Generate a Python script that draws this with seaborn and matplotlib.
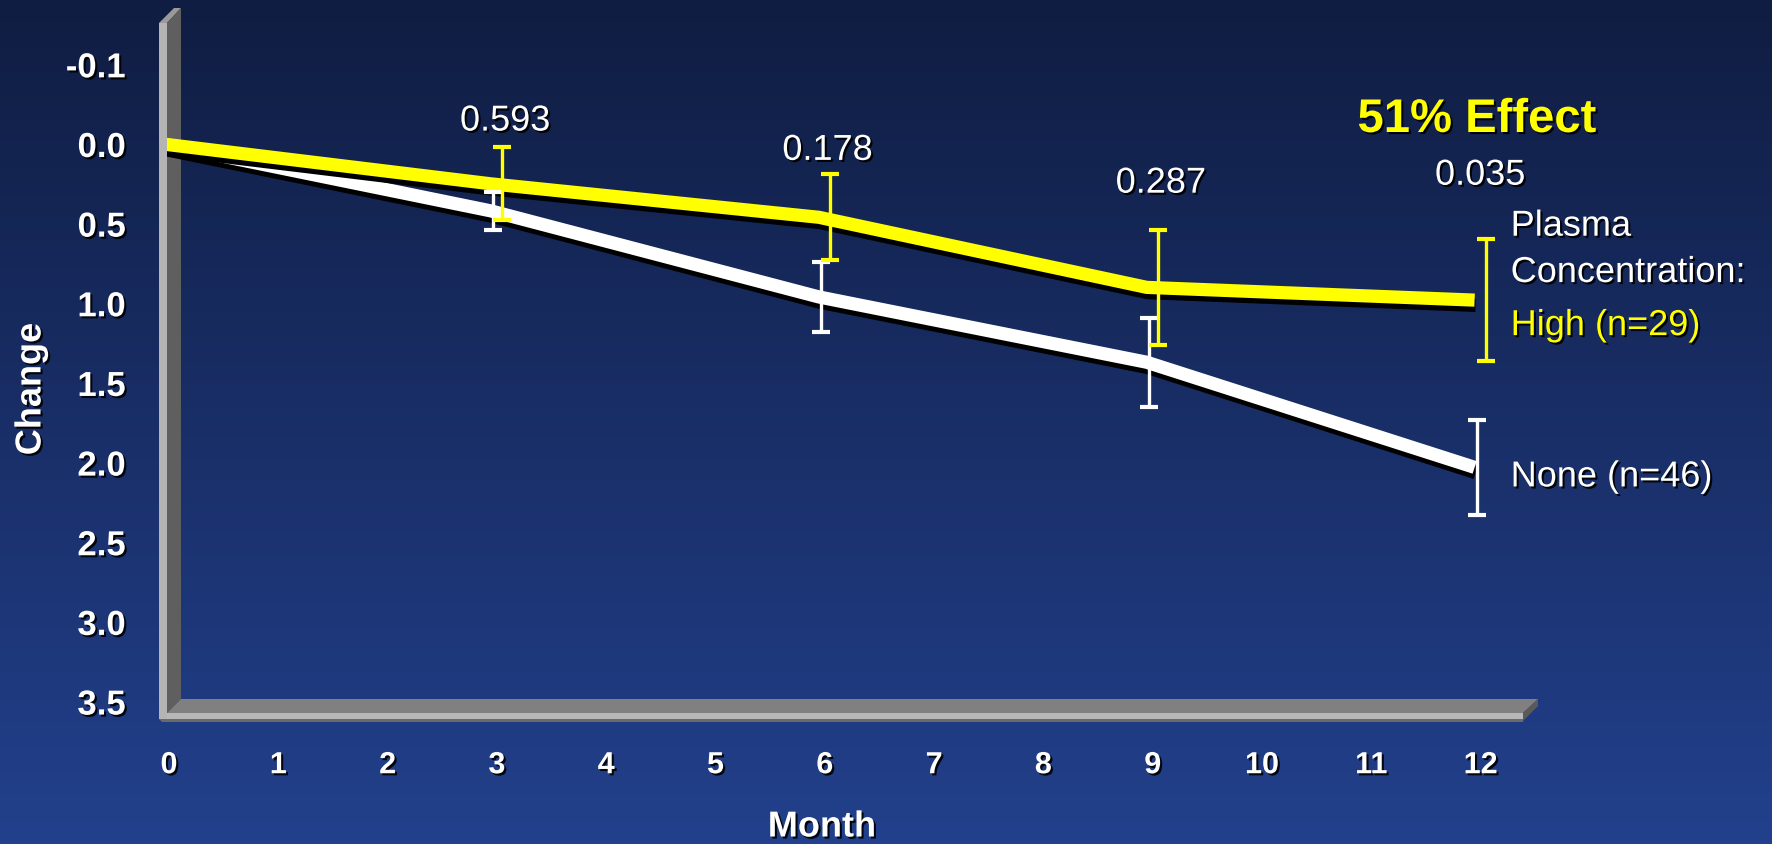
import numpy as np
import pandas as pd
import matplotlib
matplotlib.use('Agg')
import matplotlib.pyplot as plt
import matplotlib.patheffects as pe
import matplotlib.transforms as mtransforms
from matplotlib.patches import Polygon
import seaborn as sns

# Data
months = [0, 3, 6, 9, 12]
high_mean = [0.0, 0.25, 0.46, 0.90, 0.98]
high_err = [0.0, 0.23, 0.27, 0.36, 0.385]
none_mean = [0.0, 0.42, 0.96, 1.37, 2.03]
none_err = [0.0, 0.12, 0.22, 0.28, 0.30]
p_values = ['0.593', '0.178', '0.287', '0.035']
x_ticks = list(range(13))
y_ticks = [-0.5, 0.0, 0.5, 1.0, 1.5, 2.0, 2.5, 3.0, 3.5]
y_tick_labels = ['-0.1', '0.0', '0.5', '1.0', '1.5', '2.0', '2.5', '3.0', '3.5']

W, H = 1772, 845
YELLOW = '#ffff00'
WHITE = '#ffffff'

sns.set_theme(style='white')
plt.rcParams['font.family'] = ['Liberation Sans', 'DejaVu Sans']

fig = plt.figure(figsize=(W / 100, H / 100), dpi=100)

# background gradient
bg = fig.add_axes([0, 0, 1, 1], zorder=-10)
top = np.array([16, 29, 66]) / 255
bot = np.array([34, 64, 140]) / 255
t = np.linspace(0, 1, 256)[:, None]
grad = (top[None, :] * (1 - t) + bot[None, :] * t)[:, None, :]
bg.imshow(grad, aspect='auto', extent=[0, 1, 0, 1])
bg.axis('off')


def px(x, y):
    return (x / W, 1 - y / H)


# pseudo 3D walls (pixel layout of the original slide)
walls = [
    ([(159, 24), (174, 9), (181, 9), (167, 24)], '#9a9a9a', -5),
    ([(167, 24), (181, 9), (181, 700), (167, 714)], '#5f5f5f', -5),
    ([(167, 714), (181, 700), (1538, 700), (1523, 714)], '#808080', -5),
    ([(1523, 714), (1538, 700), (1538, 707), (1523, 722)], '#5a5a5a', -5),
    ([(159, 720), (1523, 720), (1523, 722.5), (162, 722.5)], '#6a6a6a', -5),
    ([(159, 714), (1523, 714), (1523, 720), (159, 720)], '#b8b8b8', -5),
    ([(159, 24), (167, 24), (167, 720), (159, 720)], '#b4b4b4', 1),
]
for pts, col, z in walls:
    fig.add_artist(Polygon([px(*p) for p in pts], closed=True, facecolor=col,
                           edgecolor='none', transform=fig.transFigure, zorder=z))

# main axes
left_px, right_px, top_px, bot_px = 159, 1538, 9, 720
ax = fig.add_axes([left_px / W, 1 - bot_px / H, (right_px - left_px) / W,
                   (bot_px - top_px) / H], zorder=0)
ax.set_facecolor('none')
x0, xs = 163, 109.3
y0, ys = 145, 159.3
ax.set_xlim((left_px - x0) / xs, (right_px - x0) / xs)
ax.set_ylim((bot_px - y0) / ys, (top_px - y0) / ys)
for s in ax.spines.values():
    s.set_visible(False)

df = pd.DataFrame({
    'Month': months * 2,
    'Change': none_mean + high_mean,
    'Group': ['None'] * len(months) + ['High'] * len(months),
})
line_fx = [pe.SimpleLineShadow(offset=(0.7, -3.8), shadow_color='black', alpha=1.0), pe.Normal()]
sns.lineplot(data=df, x='Month', y='Change', hue='Group', hue_order=['None', 'High'],
             palette={'None': WHITE, 'High': YELLOW}, linewidth=9.5, legend=False, ax=ax)
for ln in ax.lines:
    ln.set_path_effects(line_fx)
    ln.set_solid_joinstyle('miter')
    ln.set_solid_capstyle('butt')

ax.errorbar(np.array(months[1:]) + 0.02, none_mean[1:], yerr=none_err[1:], fmt='none',
            ecolor=WHITE, elinewidth=2.4, capsize=6.6, capthick=3, zorder=5)
ax.errorbar(np.array(months[1:]) + 0.1, high_mean[1:], yerr=high_err[1:], fmt='none',
            ecolor=YELLOW, elinewidth=2.4, capsize=6.6, capthick=3, zorder=5)

txt_fx = [pe.withSimplePatchShadow(offset=(1.5, -1.5), shadow_rgbFace='black', alpha=0.9)]

# p-values above the time points
p_x = [3.13, 6.08, 9.13, 12.05]
p_y = [-0.144, 0.040, 0.246, 0.196]
for xv, yv, s in zip(p_x, p_y, p_values):
    ax.text(xv, yv, s, color=WHITE, fontsize=26, ha='center', va='center',
            path_effects=txt_fx)

# group labels
lx = 12.33
ax.text(lx, 0.516, 'Plasma', color=WHITE, fontsize=26, ha='left', va='center', path_effects=txt_fx)
ax.text(lx, 0.807, 'Concentration:', color=WHITE, fontsize=26, ha='left', va='center', path_effects=txt_fx)
ax.text(lx, 1.14, 'High (n=29)', color=YELLOW, fontsize=26, ha='left', va='center', path_effects=txt_fx)
ax.text(lx, 2.09, 'None (n=46)', color=WHITE, fontsize=26, ha='left', va='center', path_effects=txt_fx)

# ticks
ax.set_xticks(x_ticks)
ax.set_yticks(y_ticks, labels=y_tick_labels)
ax.tick_params(axis='both', colors=WHITE, labelcolor=WHITE,
               length=10.5, width=1.6, direction='out')
ax.tick_params(axis='y', pad=13.5, labelsize=25)
ax.tick_params(axis='x', pad=12, labelsize=22)
shift = mtransforms.ScaledTranslation(0.06, 0, fig.dpi_scale_trans)
for lab in ax.get_xticklabels():
    lab.set_transform(lab.get_transform() + shift)
for lab in ax.get_xticklabels() + ax.get_yticklabels():
    lab.set_fontweight('bold')
    lab.set_path_effects(txt_fx)
ax.set_xlabel('')
ax.set_ylabel('')

fig.text(31 / W, 1 - 390 / H, 'Change', color=WHITE, fontsize=26, fontweight='bold',
         rotation=90, ha='center', va='center', path_effects=txt_fx)
fig.text(822 / W, 1 - 828 / H, 'Month', color=WHITE, fontsize=26, fontweight='bold',
         ha='center', va='center', path_effects=txt_fx)
fig.text(1477 / W, 1 - 121 / H, '51% Effect', color=YELLOW, fontsize=34, fontweight='bold',
         ha='center', va='center', path_effects=txt_fx)

fig.savefig('out.png', dpi=100)
